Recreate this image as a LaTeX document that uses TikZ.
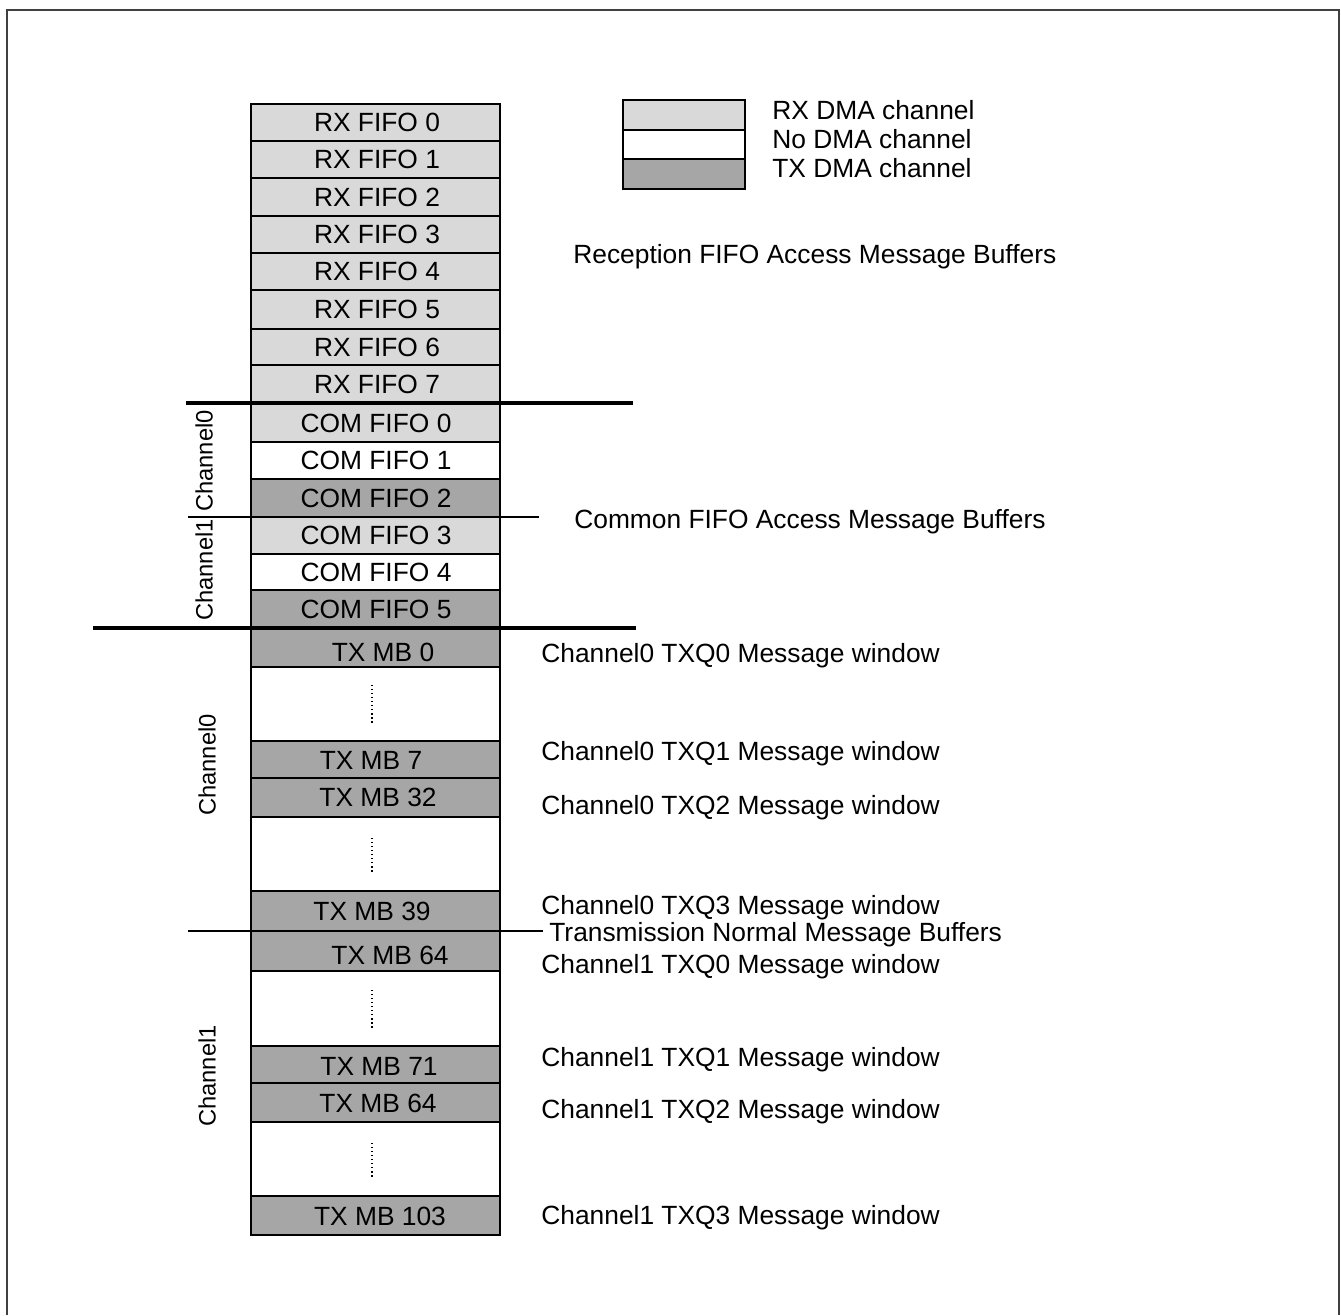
\documentclass[tikz,border=0pt]{standalone}
\usepackage{fontspec}
\setmainfont{Liberation Sans}
\usetikzlibrary{positioning}
\definecolor{RxGray}{HTML}{D9D9D9}
\definecolor{TxGray}{HTML}{A6A6A6}
\definecolor{FrameGray}{HTML}{404040}

\begin{document}
\begin{tikzpicture}[x=0.02cm,y=-0.02cm,font=\fontsize{15}{18}\selectfont,
  cell/.style={draw=black,line width=1pt},
  txt/.style={inner sep=0pt,text height=10.7pt,text depth=0pt},
  lbl/.style={txt,anchor=west},
  side/.style={inner sep=0pt,text height=9.7pt,text depth=0pt,rotate=90,font=\fontsize{13.5}{16}\selectfont},
  sep/.style={line width=2.6pt},
  thinsep/.style={line width=0.7pt},
  dots/.style={line width=0.8pt,dash pattern=on 0.7pt off 1.6pt}]
\useasboundingbox (0,0) rectangle (1341,1315);
\draw[FrameGray,line width=1.2pt] (7,1315) -- (7,10) -- (1339,10) -- (1339,1315);
\foreach \i/\top/\bot in {0/104/141,1/141/178,2/178/216,3/216/253,4/253/290,5/290/329,6/329/365,7/365/403}{
\draw[cell,fill=RxGray] (251,\top) rectangle (500,\bot);
\node[txt] (rx\i) at (377,{(\top+\bot)/2}) {RX FIFO \i};}
\foreach \i/\top/\bot/\shade in {0/404/442/RxGray,1/442/479/white,2/479/517/TxGray,3/517/554/RxGray,4/554/590/white,5/590/628/TxGray}{
\draw[cell,fill=\shade] (251,\top) rectangle (500,\bot);
\node[txt] (com\i) at (376,{(\top+\bot)/2}) {COM FIFO \i};}
\foreach \n/\top/\bot/\tx/\ty in {0/628/667/383/652,7/741/778/371/760,32/778/817/378/797,39/891/931/372/911,64/931/971/390/955,71/1046/1083/379/1066,64/1083/1122/378/1103,103/1196/1235/380/1216}{
\draw[cell,fill=TxGray] (251,\top) rectangle (500,\bot);
\node[txt] (tx\n) at (\tx,\ty) {TX MB \n};}
\foreach \top/\bot/\a/\b in {667/741/685/724,817/891/838/872,971/1046/990/1029,1122/1196/1143/1177}{
\draw[cell,fill=white] (251,\top) rectangle (500,\bot);
\draw[dots] (372,\a) -- (372,\b);}
\draw[sep] (186,403) -- (633,403);
\draw[sep] (93,628) -- (636,628);
\draw[thinsep] (188,517) -- (539,517);
\draw[thinsep] (188,931) -- (543,931);
\draw[cell,fill=RxGray] (623,100) rectangle (745,130);
\draw[cell,fill=white] (623,130) rectangle (745,159);
\draw[cell,fill=TxGray] (623,159) rectangle (745,189);
\node[lbl] (keyrx) at (772,110) {RX DMA channel};
\node[lbl] (keyno) at (772,139) {No DMA channel};
\node[lbl] (keytx) at (772,168) {TX DMA channel};
\node[lbl] (recv) at (573,254) {Reception FIFO Access Message Buffers};
\node[lbl] (common) at (574,519) {Common FIFO Access Message Buffers};
\node[lbl] (trans) at (549,932) {Transmission Normal Message Buffers};
\foreach \c/\q/\y in {0/0/653,0/1/751,0/2/805,0/3/905,1/0/964,1/1/1057,1/2/1109,1/3/1215}{
\node[lbl] (win\c\q) at (541,\y) {Channel\c\ TXQ\q\ Message window};}
\node[side] (comch0) at (204,461) {Channel0};
\node[side] (comch1) at (204,570) {Channel1};
\node[side] (txch0) at (207,765) {Channel0};
\node[side] (txch1) at (207,1076) {Channel1};
\end{tikzpicture}
\end{document}
